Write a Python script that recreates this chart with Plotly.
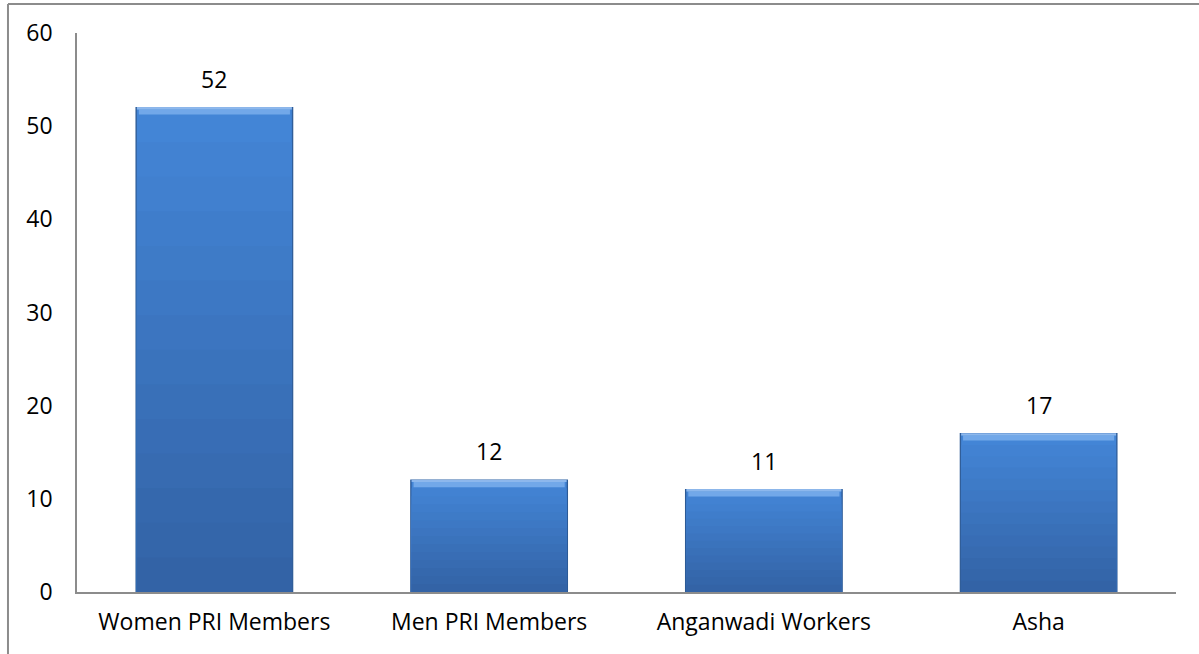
import plotly.graph_objects as go

categories = ["Women PRI Members", "Men PRI Members", "Anganwadi Workers", "Asha"]
values = [52, 12, 11, 17]
y_ticks = [0, 10, 20, 30, 40, 50, 60]

FONT = "'Open Sans', Lato, sans-serif"
FS = 23
AX = "#8c8c8c"
BAR_W = 0.57

# vertical gradient colours (top -> bottom) used to shade each bar
grad_top = (0x43, 0x85, 0xd6)
grad_bot = (0x33, 0x63, 0xa6)
N_BANDS = 14

fig = go.Figure()
# base bar (data)
fig.add_trace(go.Bar(
    x=categories, y=values,
    marker=dict(color="rgb(51,99,166)", line=dict(color="#2c5a96", width=1.2)),
    width=BAR_W, hovertemplate="%{x}: %{y}<extra></extra>",
))
# gradient shading: overlaid bars, each a fraction of the value, lighter toward top
for k in range(N_BANDS):
    frac = 1 - k / N_BANDS
    t = k / (N_BANDS - 1)
    col = tuple(round(a + (b - a) * t) for a, b in zip(grad_top, grad_bot))
    fig.add_trace(go.Bar(
        x=categories, y=[v * frac for v in values],
        marker=dict(color="rgb(%d,%d,%d)" % col, line=dict(width=0)),
        width=BAR_W - 0.006, hoverinfo="skip",
    ))
# bevel highlight at top of each bar
fig.add_trace(go.Bar(
    x=categories, y=[0.55] * len(values), base=[v - 0.75 for v in values],
    marker=dict(color="rgba(120,172,235,0.9)", line=dict(width=0)),
    width=BAR_W - 0.02, hoverinfo="skip",
))
fig.add_trace(go.Bar(
    x=categories, y=[0.25] * len(values), base=[v - 0.2 for v in values],
    marker=dict(color="rgba(150,190,240,0.9)", line=dict(width=0)),
    width=BAR_W - 0.006, hoverinfo="skip",
))

for c, v in zip(categories, values):
    fig.add_annotation(x=c, y=v, text=str(v), showarrow=False, yshift=29,
                       font=dict(family=FONT, size=FS, color="#000"))

# chart-area border (top and left visible)
fig.add_shape(type="line", xref="paper", yref="paper", x0=-0.0628, x1=1.05,
              y0=1.0519, y1=1.0519, line=dict(color=AX, width=2))
fig.add_shape(type="line", xref="paper", yref="paper", x0=-0.0628, x1=-0.0628,
              y0=-0.12, y1=1.0519, line=dict(color=AX, width=2))

fig.update_layout(
    width=1199, height=654,
    margin=dict(l=77, r=23, t=33, b=62),
    paper_bgcolor="white", plot_bgcolor="white",
    barmode="overlay", showlegend=False,
    font=dict(family=FONT, size=FS, color="#000"),
    xaxis=dict(showline=True, linecolor=AX, linewidth=1.5, ticks="",
               showgrid=False, ticklabelstandoff=9,
               tickfont=dict(family=FONT, size=FS)),
    yaxis=dict(range=[0, 60], tickvals=y_ticks, showline=True, linecolor=AX,
               linewidth=1.5, ticks="", showgrid=False, zeroline=False,
               ticklabelstandoff=18, tickfont=dict(family=FONT, size=FS)),
)

fig.write_html("out.html", config={"displayModeBar": False},
               post_script="document.body.style.margin='0';")
